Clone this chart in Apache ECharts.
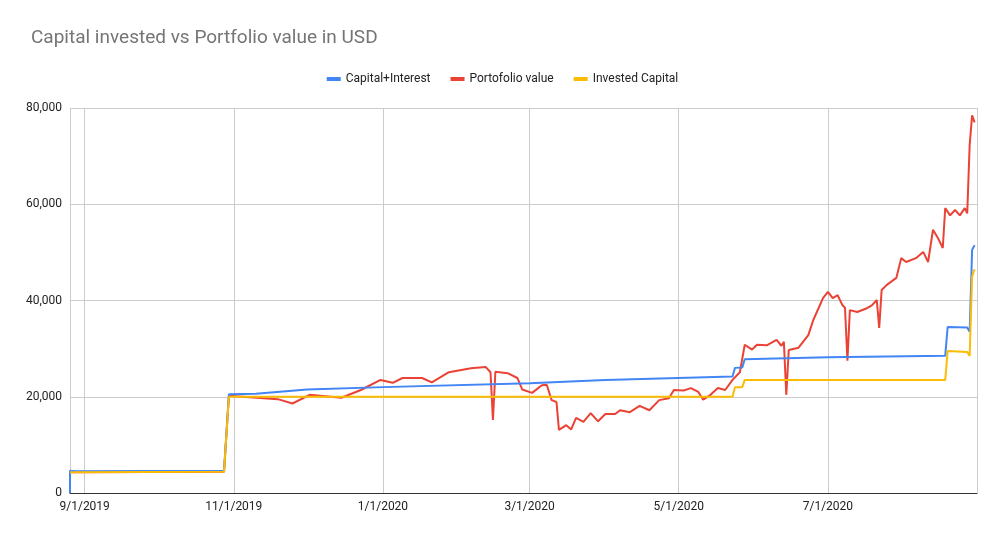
<!DOCTYPE html>
<html>
<head>
<meta charset="utf-8">
<title>Capital invested vs Portfolio value</title>
<script src="https://cdn.jsdelivr.net/npm/echarts@6/dist/echarts.min.js"></script>
<style>body{margin:0}</style>
</head>
<body>
<div id="main" style="width:1005px;height:541px;"></div>
<script type="text/javascript">
// [date, value] pairs
var capitalInterest = [
  ['2019-08-26', 0], ['2019-08-26', 4600], ['2019-08-28', 4500], ['2019-10-28', 4600],
  ['2019-10-30', 20500], ['2019-11-10', 20600], ['2019-12-01', 21500], ['2020-01-01', 22000],
  ['2020-03-01', 22800], ['2020-04-01', 23500], ['2020-05-23', 24200], ['2020-05-24', 26000],
  ['2020-05-27', 26100], ['2020-05-28', 27800], ['2020-07-01', 28200], ['2020-08-18', 28500],
  ['2020-08-19', 34500], ['2020-08-27', 34400], ['2020-08-28', 33500], ['2020-08-29', 50500],
  ['2020-08-30', 51500]
];
var portfolioValue = [
  ['2019-08-26', 4300], ['2019-10-28', 4400], ['2019-10-30', 20200], ['2019-11-19', 19500],
  ['2019-11-25', 18600], ['2019-12-02', 20400], ['2019-12-15', 19800], ['2019-12-23', 21400],
  ['2019-12-31', 23500], ['2020-01-05', 22900], ['2020-01-09', 23900], ['2020-01-17', 23900],
  ['2020-01-21', 23000], ['2020-01-28', 25100], ['2020-02-06', 25900], ['2020-02-12', 26200],
  ['2020-02-14', 25100], ['2020-02-15', 15200], ['2020-02-16', 25200], ['2020-02-21', 24900],
  ['2020-02-25', 23900], ['2020-02-27', 21500], ['2020-03-02', 20800], ['2020-03-06', 22400],
  ['2020-03-08', 22500], ['2020-03-10', 19300], ['2020-03-12', 18900], ['2020-03-13', 13100],
  ['2020-03-16', 14100], ['2020-03-18', 13200], ['2020-03-20', 15600], ['2020-03-23', 14800],
  ['2020-03-26', 16600], ['2020-03-29', 14900], ['2020-04-01', 16400], ['2020-04-05', 16400],
  ['2020-04-07', 17200], ['2020-04-11', 16800], ['2020-04-15', 18100], ['2020-04-19', 17200],
  ['2020-04-23', 19300], ['2020-04-27', 19700], ['2020-04-29', 21400], ['2020-05-03', 21300],
  ['2020-05-06', 21800], ['2020-05-09', 21000], ['2020-05-11', 19400], ['2020-05-14', 20400],
  ['2020-05-17', 21800], ['2020-05-20', 21400], ['2020-05-23', 23500], ['2020-05-26', 25100],
  ['2020-05-28', 30800], ['2020-05-31', 29800], ['2020-06-02', 30800], ['2020-06-06', 30700],
  ['2020-06-10', 31800], ['2020-06-12', 30600], ['2020-06-13', 31400], ['2020-06-14', 20400],
  ['2020-06-15', 29700], ['2020-06-19', 30200], ['2020-06-23', 32800], ['2020-06-25', 35900],
  ['2020-06-29', 40500], ['2020-07-01', 41800], ['2020-07-03', 40500], ['2020-07-05', 41100],
  ['2020-07-07', 39000], ['2020-07-08', 38500], ['2020-07-09', 27500], ['2020-07-10', 38000],
  ['2020-07-13', 37600], ['2020-07-17', 38400], ['2020-07-19', 39000], ['2020-07-21', 40100],
  ['2020-07-22', 34300], ['2020-07-23', 42200], ['2020-07-25', 43200], ['2020-07-29', 44700],
  ['2020-07-31', 48800], ['2020-08-02', 48000], ['2020-08-06', 48800], ['2020-08-09', 50100],
  ['2020-08-11', 48000], ['2020-08-13', 54700], ['2020-08-15', 53000], ['2020-08-17', 50900],
  ['2020-08-18', 59200], ['2020-08-20', 57700], ['2020-08-22', 58800], ['2020-08-24', 57700],
  ['2020-08-26', 59200], ['2020-08-27', 58100], ['2020-08-28', 72300], ['2020-08-29', 78500],
  ['2020-08-30', 77000]
];
var investedCapital = [
  ['2019-08-26', 4300], ['2019-10-28', 4400], ['2019-10-30', 20000], ['2020-05-23', 20000],
  ['2020-05-24', 22000], ['2020-05-27', 22000], ['2020-05-28', 23500], ['2020-08-18', 23500],
  ['2020-08-19', 29500], ['2020-08-27', 29300], ['2020-08-28', 28500], ['2020-08-29', 45000],
  ['2020-08-30', 46500]
];

var chart = echarts.init(document.getElementById('main'));
function lineSeries(name, data, color, z) {
  return { name: name, type: 'line', data: data, showSymbol: false, z: z,
    lineStyle: { width: 2, color: color }, itemStyle: { color: color } };
}
chart.setOption({
  animation: false,
  title: { text: 'Capital invested vs Portfolio value in USD', left: 26, top: 24,
    textStyle: { fontFamily: 'Roboto', fontSize: 19, fontWeight: 'normal', color: '#757575' } },
  legend: { top: 68, left: 'center', itemWidth: 14, itemHeight: 4, icon: 'rect', itemGap: 20,
    textStyle: { fontFamily: 'Roboto', fontSize: 12, color: '#222' } },
  grid: { left: 70, right: 28, top: 108, bottom: 48 },
  xAxis: {
    type: 'time', min: '2019-08-26', max: '2020-08-31',
    minInterval: 89 * 86400000, maxInterval: 92 * 86400000,
    axisLine: { lineStyle: { color: '#333' } }, axisTick: { show: false },
    splitLine: { show: true, lineStyle: { color: '#ccc' } },
    axisLabel: { color: '#222', fontFamily: 'Roboto', fontSize: 12,
      formatter: function (v) { var d = new Date(v); return (d.getMonth() + 1) + '/' + d.getDate() + '/' + d.getFullYear(); } }
  },
  yAxis: {
    type: 'value', min: 0, max: 80000, interval: 20000,
    axisLine: { show: false }, axisTick: { show: false },
    splitLine: { lineStyle: { color: '#ccc' } },
    axisLabel: { color: '#222', fontFamily: 'Roboto', fontSize: 12 }
  },
  series: [
    lineSeries('Capital+Interest', capitalInterest, '#4285F4', 3),
    lineSeries('Portofolio value', portfolioValue, '#EA4335', 2),
    lineSeries('Invested Capital', investedCapital, '#FBBC04', 4)
  ]
});
</script>
</body>
</html>
